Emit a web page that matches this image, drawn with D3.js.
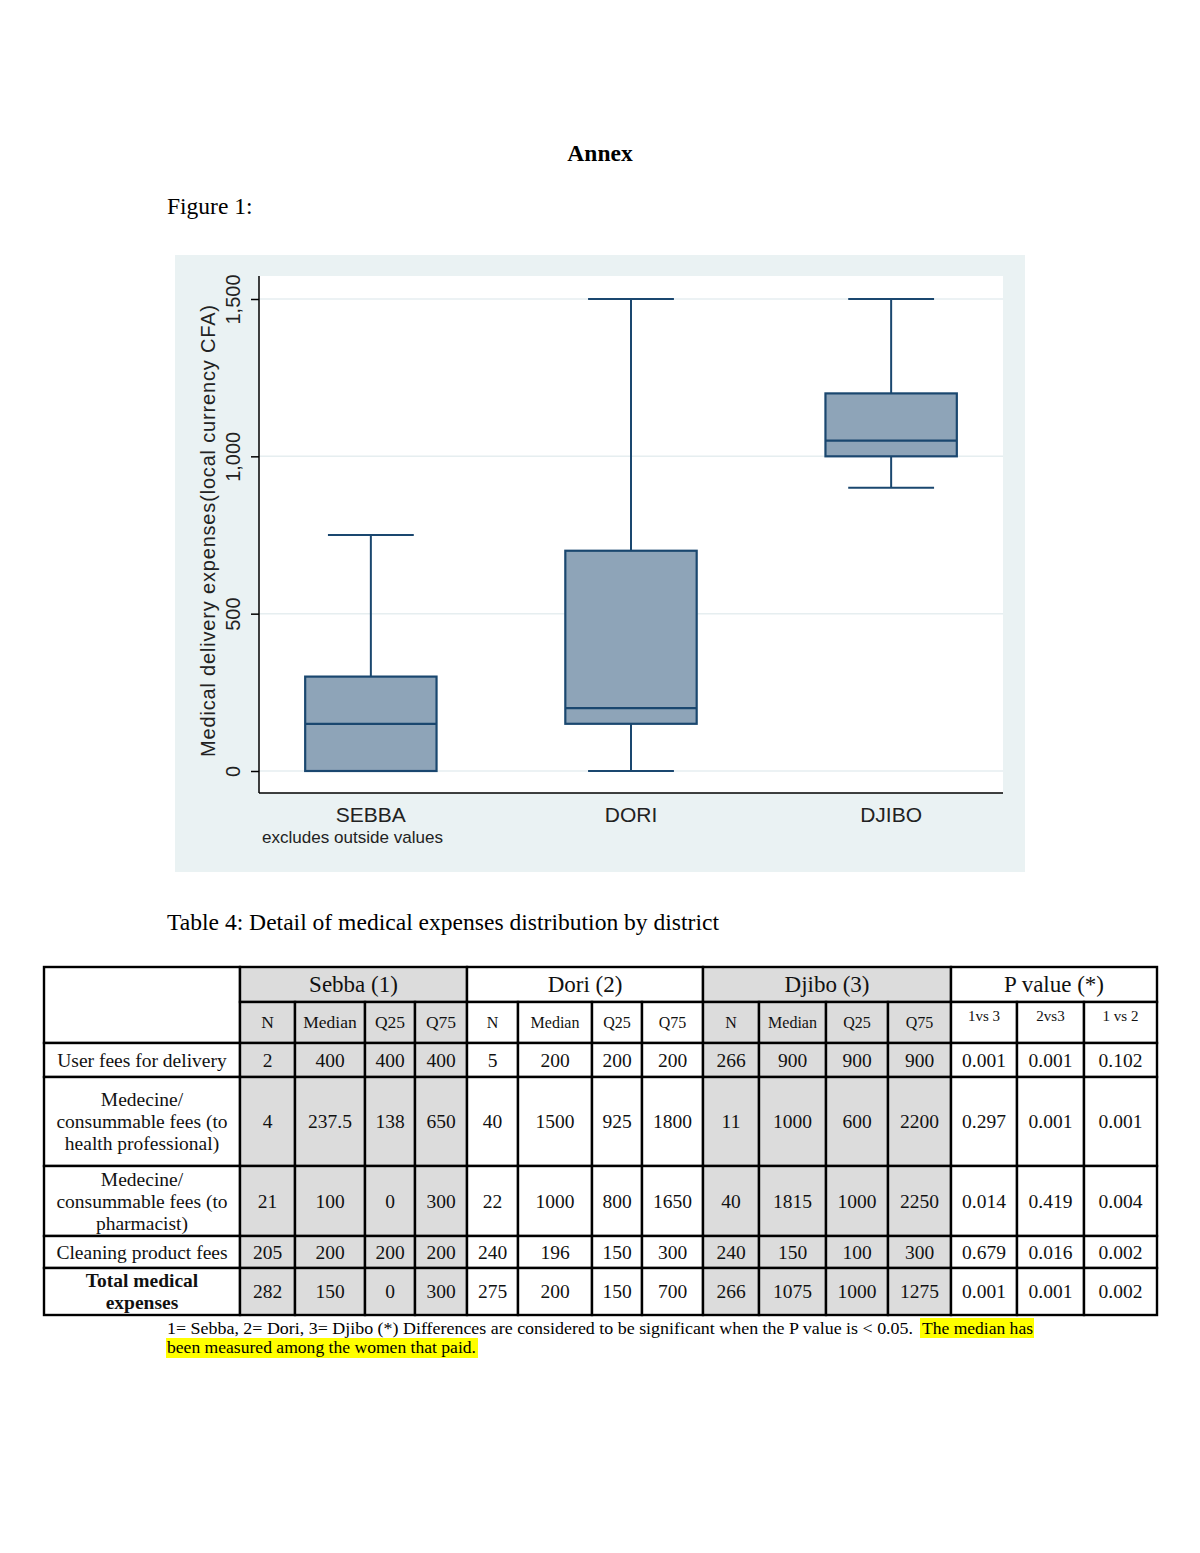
<!DOCTYPE html>
<html>
<head>
<meta charset="utf-8">
<script src="https://cdn.jsdelivr.net/npm/d3@7"></script>
<style>
  body { margin: 0; background: #fff; }
</style>
</head>
<body>
<svg id="page"></svg>
<script>
// Figure 1 box plot
var districts = ["SEBBA", "DORI", "DJIBO"];
var whiskLow = [0, 0, 900];
var q25 = [0, 150, 1000];
var medians = [150, 200, 1050];
var q75 = [300, 700, 1200];
var whiskHigh = [750, 1500, 1500];
var yTicks = [0, 500, 1000, 1500];

// Table 4
var groups = ["Sebba (1)", "Dori (2)", "Djibo (3)", "P value (*)"];
var statCols = ["N", "Median", "Q25", "Q75"];
var pCols = ["1vs 3", "2vs3", "1 vs 2"];
var rowLabels = [
    ["User fees for delivery"],
    ["Medecine/", "consummable fees (to", "health professional)"],
    ["Medecine/", "consummable fees (to", "pharmacist)"],
    ["Cleaning product fees"],
    ["Total medical", "expenses"]
];
var sebba = [[2, 400, 400, 400], [4, 237.5, 138, 650], [21, 100, 0, 300], [205, 200, 200, 200], [282, 150, 0, 300]];
var dori = [[5, 200, 200, 200], [40, 1500, 925, 1800], [22, 1000, 800, 1650], [240, 196, 150, 300], [275, 200, 150, 700]];
var djibo = [[266, 900, 900, 900], [11, 1000, 600, 2200], [40, 1815, 1000, 2250], [240, 150, 100, 300], [266, 1075, 1000, 1275]];
var pValues = [[0.001, 0.001, 0.102], [0.297, 0.001, 0.001], [0.014, 0.419, 0.004], [0.679, 0.016, 0.002], [0.001, 0.001, 0.002]];

var width = 1200, height = 1553;
var serif = '"Liberation Serif", "Times New Roman", serif';
var sans = '"Liberation Sans", Arial, sans-serif';

var svg = d3.select('#page')
    .attr('width', width)
    .attr('height', height)
    .attr('viewBox', `0 0 ${width} ${height}`);

svg.append('rect').attr('width', width).attr('height', height).attr('fill', 'white');

// page texts
svg.append('text')
    .attr('x', 600).attr('y', 161)
    .attr('text-anchor', 'middle')
    .attr('font-family', serif).attr('font-weight', 'bold').attr('font-size', 23.5)
    .text('Annex');

svg.append('text')
    .attr('x', 167).attr('y', 214)
    .attr('font-family', serif).attr('font-size', 23.5)
    .text('Figure 1:');

svg.append('text')
    .attr('x', 167).attr('y', 930)
    .attr('font-family', serif).attr('font-size', 23.5)
    .attr('textLength', 552).attr('lengthAdjust', 'spacingAndGlyphs')
    .text('Table 4: Detail of medical expenses distribution by district');

// ---------- box plot ----------
var panel = { x: 175, y: 255, w: 850, h: 617 };
var plot = { left: 259, right: 1003, top: 276, bottom: 793 };
var navy = '#1a476f';
var boxFill = '#8ea4b8';

var chart = svg.append('g').attr('id', 'chart');

chart.append('rect')
    .attr('x', panel.x).attr('y', panel.y)
    .attr('width', panel.w).attr('height', panel.h)
    .attr('fill', '#eaf2f3');

chart.append('rect')
    .attr('x', plot.left).attr('y', plot.top)
    .attr('width', plot.right - plot.left).attr('height', plot.bottom - plot.top)
    .attr('fill', 'white');

var x = d3.scalePoint()
    .domain(districts)
    .range([plot.left, plot.right])
    .padding(0.43);

var y = d3.scaleLinear()
    .domain([0, 1500])
    .range([771, 299]);

var boxW = x.step() * 0.505;
var capW = x.step() * 0.33;

// gridlines
chart.append('g')
    .selectAll('line')
    .data(yTicks)
    .join('line')
    .attr('x1', plot.left).attr('x2', plot.right)
    .attr('y1', d => y(d)).attr('y2', d => y(d))
    .attr('stroke', '#e6eef0')
    .attr('stroke-width', 1.5);

// y axis
var yAxis = chart.append('g')
    .attr('transform', `translate(${plot.left},0)`)
    .call(d3.axisLeft(y).tickValues(yTicks).tickSize(8).tickFormat(d3.format(',')));

yAxis.select('.domain').remove();
yAxis.selectAll('.tick line').attr('stroke', 'black').attr('stroke-width', 1.5);
yAxis.selectAll('.tick text')
    .attr('x', null).attr('dy', null)
    .attr('transform', 'translate(-19,0) rotate(-90)')
    .attr('text-anchor', 'middle')
    .attr('font-family', sans)
    .attr('font-size', 20)
    .attr('fill', '#222');

chart.append('line')
    .attr('x1', plot.left).attr('x2', plot.left)
    .attr('y1', plot.top).attr('y2', plot.bottom)
    .attr('stroke', 'black').attr('stroke-width', 1.5);

chart.append('line')
    .attr('x1', plot.left).attr('x2', plot.right)
    .attr('y1', plot.bottom).attr('y2', plot.bottom)
    .attr('stroke', 'black').attr('stroke-width', 1.5);

chart.append('text')
    .attr('transform', 'translate(215,531) rotate(-90)')
    .attr('text-anchor', 'middle')
    .attr('font-family', sans).attr('font-size', 20)
    .attr('fill', '#222')
    .attr('textLength', 452).attr('lengthAdjust', 'spacing')
    .text('Medical delivery expenses(local currency CFA)');

// x labels
chart.append('g')
    .selectAll('text')
    .data(districts)
    .join('text')
    .attr('x', d => x(d)).attr('y', 822)
    .attr('text-anchor', 'middle')
    .attr('font-family', sans).attr('font-size', 21)
    .attr('fill', '#222')
    .text(d => d);

chart.append('text')
    .attr('x', 262).attr('y', 843)
    .attr('font-family', sans).attr('font-size', 17)
    .attr('fill', '#222')
    .attr('textLength', 181).attr('lengthAdjust', 'spacingAndGlyphs')
    .text('excludes outside values');

// boxes
var boxes = chart.append('g')
    .selectAll('g')
    .data(districts.map((d, i) => ({
        name: d, lo: whiskLow[i], q1: q25[i], med: medians[i], q3: q75[i], hi: whiskHigh[i]
    })))
    .join('g');

// whiskers
boxes.append('line')
    .attr('x1', d => x(d.name)).attr('x2', d => x(d.name))
    .attr('y1', d => y(d.hi)).attr('y2', d => y(d.q3))
    .attr('stroke', navy).attr('stroke-width', 2);

boxes.append('line')
    .attr('x1', d => x(d.name)).attr('x2', d => x(d.name))
    .attr('y1', d => y(d.q1)).attr('y2', d => y(d.lo))
    .attr('stroke', navy).attr('stroke-width', 2);

boxes.append('line')
    .attr('x1', d => x(d.name) - capW / 2).attr('x2', d => x(d.name) + capW / 2)
    .attr('y1', d => y(d.hi)).attr('y2', d => y(d.hi))
    .attr('stroke', navy).attr('stroke-width', 2);

boxes.append('line')
    .attr('x1', d => x(d.name) - capW / 2).attr('x2', d => x(d.name) + capW / 2)
    .attr('y1', d => y(d.lo)).attr('y2', d => y(d.lo))
    .attr('stroke', navy).attr('stroke-width', 2);

boxes.append('rect')
    .attr('x', d => x(d.name) - boxW / 2)
    .attr('y', d => y(d.q3))
    .attr('width', boxW)
    .attr('height', d => y(d.q1) - y(d.q3))
    .attr('fill', boxFill)
    .attr('stroke', navy).attr('stroke-width', 2.2);

boxes.append('line')
    .attr('x1', d => x(d.name) - boxW / 2).attr('x2', d => x(d.name) + boxW / 2)
    .attr('y1', d => y(d.med)).attr('y2', d => y(d.med))
    .attr('stroke', navy).attr('stroke-width', 2.2);

// ---------- table ----------
var colX = [44, 240, 295, 365, 415, 467, 518, 592, 642, 703, 759, 826, 888, 951, 1017, 1084, 1157];
var rowY = [967, 1002, 1043, 1077, 1166, 1236, 1268, 1315];
var gray = '#dcdcdc';

function isGray(c) { return (c >= 1 && c <= 4) || (c >= 9 && c <= 12); }

var table = svg.append('g').attr('id', 'table');

var cells = [];
// top-left empty cell
cells.push({ x0: colX[0], x1: colX[1], y0: rowY[0], y1: rowY[2], fill: 'white', lines: [], size: 19.5 });
// group headers
groups.forEach(function (g, i) {
    var c0 = 1 + 4 * i, c1 = Math.min(c0 + 4, colX.length - 1);
    cells.push({ x0: colX[c0], x1: colX[c1], y0: rowY[0], y1: rowY[1],
        fill: isGray(c0) ? gray : 'white', lines: [g], size: 23 });
});
// sub headers
for (var c = 1; c < colX.length - 1; c++) {
    var isP = c >= 13;
    var label = isP ? pCols[c - 13] : statCols[(c - 1) % 4];
    var size = c <= 4 ? 17.5 : (isP ? 15 : 16);
    cells.push({ x0: colX[c], x1: colX[c + 1], y0: rowY[1], y1: rowY[2],
        fill: isGray(c) ? gray : 'white', lines: [label], size: size, top: isP });
}
// body rows
rowLabels.forEach(function (lab, r) {
    cells.push({ x0: colX[0], x1: colX[1], y0: rowY[r + 2], y1: rowY[r + 3],
        fill: 'white', lines: lab, size: 19.5, bold: r === 4 });
    var values = sebba[r].map(String)
        .concat(dori[r].map(String))
        .concat(djibo[r].map(String))
        .concat(pValues[r].map(d3.format('.3f')));
    values.forEach(function (v, k) {
        var c = k + 1;
        cells.push({ x0: colX[c], x1: colX[c + 1], y0: rowY[r + 2], y1: rowY[r + 3],
            fill: isGray(c) ? gray : 'white', lines: [v], size: 19.5 });
    });
});

var cellG = table.selectAll('g.cell')
    .data(cells)
    .join('g')
    .attr('class', 'cell');

cellG.append('rect')
    .attr('x', d => d.x0).attr('y', d => d.y0)
    .attr('width', d => d.x1 - d.x0).attr('height', d => d.y1 - d.y0)
    .attr('fill', d => d.fill)
    .attr('stroke', 'black').attr('stroke-width', 2.4);

cellG.each(function (d) {
    var cx = (d.x0 + d.x1) / 2;
    var cy = (d.y0 + d.y1) / 2;
    var lh = 22;
    var n = d.lines.length;
    d3.select(this).selectAll('text')
        .data(d.lines)
        .join('text')
        .attr('x', cx)
        .attr('y', (t, i) => d.top ? d.y0 + 19 : cy + 0.34 * d.size + (i - (n - 1) / 2) * lh)
        .attr('text-anchor', 'middle')
        .attr('font-family', serif)
        .attr('font-size', d.size)
        .attr('font-weight', d.bold ? 'bold' : 'normal')
        .attr('fill', '#111')
        .text(t => t);
});

// footnote
var note = svg.append('g').attr('id', 'note');
note.append('rect').attr('x', 920).attr('y', 1318).attr('width', 114).attr('height', 20).attr('fill', '#ffff00');
note.append('rect').attr('x', 166).attr('y', 1338).attr('width', 312).attr('height', 20).attr('fill', '#ffff00');

note.append('text')
    .attr('x', 167).attr('y', 1334)
    .attr('font-family', serif).attr('font-size', 17)
    .attr('textLength', 746).attr('lengthAdjust', 'spacingAndGlyphs')
    .text('1= Sebba, 2= Dori, 3= Djibo (*) Differences are considered to be significant when the P value is < 0.05.');

note.append('text')
    .attr('x', 922).attr('y', 1334)
    .attr('font-family', serif).attr('font-size', 17)
    .attr('textLength', 111).attr('lengthAdjust', 'spacingAndGlyphs')
    .text('The median has');

note.append('text')
    .attr('x', 167).attr('y', 1353)
    .attr('font-family', serif).attr('font-size', 17)
    .attr('textLength', 309).attr('lengthAdjust', 'spacingAndGlyphs')
    .text('been measured among the women that paid.');
</script>
</body>
</html>
